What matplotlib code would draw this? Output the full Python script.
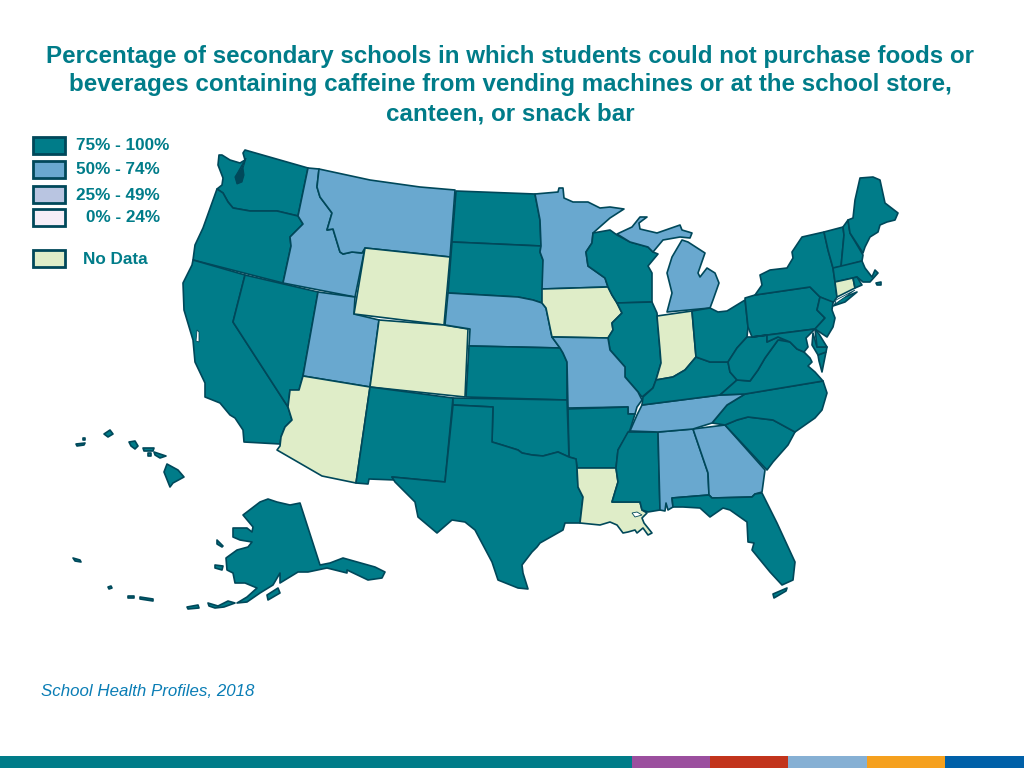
# choropleth of caffeine sales in secondary schools, by state
import matplotlib
matplotlib.use("Agg")
import matplotlib.pyplot as plt
from matplotlib.patches import Polygon, Rectangle

# colors
TEAL = "#007c89"
BLUE = "#69a8cf"
LAVENDER = "#b9c5e1"
PALE = "#f6eef8"
NODATA = "#dfedc8"
EDGE = "#00485a"

title_lines = ["Percentage of secondary schools in which students could not purchase foods or",
               "beverages containing caffeine from vending machines or at the school store,",
               "canteen, or snack bar"]
source_text = "School Health Profiles, 2018"

legend_labels = ["75% - 100%", "50% - 74%", "25% - 49%", "0% - 24%", "No Data"]
legend_colors = [TEAL, BLUE, LAVENDER, PALE, NODATA]

# which class each state falls into
band_75 = ["WA", "OR", "CA", "NV", "NM", "TX", "OK", "KS", "ND", "SD", "AR", "MS", "WI", "IL", "KY", "OH",
           "WV", "VA", "NC", "SC", "FL", "PA", "NY", "NJ", "DE", "MD", "VT", "NH", "ME", "MA", "RI",
           "AK", "HI"]
band_50 = ["ID", "MT", "UT", "NE", "MN", "MO", "MI", "TN", "AL", "GA"]
band_nodata = ["WY", "CO", "AZ", "IA", "IN", "LA", "CT"]

# state outlines, in picture pixels
outlines = {
    "WA": [[(219,155),(222,155),(230,160),(240,163),(245,160),(243,153),(245,150),(308,168),(298,216),(277,211),(250,211),(233,208),(228,202),(223,193),(217,189),(222,185),(223,178),(218,165)]],
    "OR": [[(217,189),(223,193),(228,202),(233,208),(250,211),(277,211),(298,216),(303,224),(290,237),(291,246),(283,283),(193,260),(195,245),(203,228)]],
    "CA": [[(193,260),(245,275),(233,322),(288,407),(292,420),(285,427),(281,437),(280,444),(244,442),(243,430),(235,418),(230,415),(220,403),(205,397),(205,383),(195,362),(193,340),(184,310),(183,283),(192,265)]],
    "NV": [[(245,275),(318,292),(303,376),(299,390),(290,390),(288,407),(233,322)]],
    "ID": [[(308,168),(319,169),(317,187),(320,197),(332,213),(327,230),(333,229),(340,252),(343,254),(352,252),(362,253),(365,248),(355,297),(283,283),(291,246),(290,237),(303,224),(298,216)]],
    "MT": [[(319,169),(370,180),(420,187),(455,190),(450,257),(365,248),(362,253),(352,252),(343,254),(340,252),(333,229),(327,230),(332,213),(320,197),(317,187)]],
    "UT": [[(318,292),(355,297),(354,314),(379,320),(370,387),(303,376)]],
    "WY": [[(365,248),(450,257),(444,325),(354,314)]],
    "CO": [[(379,320),(444,325),(468,329),(465,397),(370,387)]],
    "AZ": [[(303,376),(370,387),(356,483),(322,476),(277,450),(280,446),(281,437),(285,427),(292,420),(288,407),(290,390),(299,390)]],
    "NM": [[(370,387),(453,398),(445,482),(392,477),(395,480),(369,479),(368,484),(356,483)]],
    "ND": [[(456,191),(535,194),(540,220),(541,246),(452,242)]],
    "SD": [[(452,242),(541,246),(540,252),(543,260),(543,288),(542,303),(533,300),(518,297),(448,293)]],
    "NE": [[(448,293),(518,297),(533,300),(542,303),(546,308),(552,337),(560,348),(469,346),(470,329),(445,325)]],
    "KS": [[(469,346),(560,348),(563,353),(567,362),(567,400),(466,397)]],
    "MN": [[(535,194),(558,192),(559,188),(563,188),(564,198),(573,202),(588,202),(600,208),(610,207),(624,209),(610,218),(593,233),(592,243),(586,252),(588,266),(605,278),(608,287),(542,289),(543,260),(540,252),(541,246),(540,220)]],
    "IA": [[(542,289),(608,287),(612,295),(617,303),(622,313),(612,323),(613,330),(608,338),(552,337),(546,308),(542,303)]],
    "WI": [[(593,233),(610,230),(617,235),(630,242),(648,247),(653,252),(658,254),(648,266),(652,273),(652,302),(617,303),(612,295),(608,287),(605,278),(588,266),(586,252),(592,243)]],
    "IL": [[(617,303),(652,302),(657,313),(660,350),(661,363),(656,380),(653,388),(642,397),(638,392),(625,377),(625,367),(610,350),(608,338),(613,330),(612,323),(622,313)]],
    "IN": [[(657,316),(692,311),(696,357),(685,370),(673,377),(656,380),(661,363),(660,350)]],
    "MI": [[(667,312),(710,308),(713,300),(719,283),(715,273),(707,268),(700,277),(698,273),(705,253),(688,242),(682,240),(672,257),(667,273),(672,293)],
           [(617,234),(632,227),(640,217),(647,217),(639,223),(640,229),(657,233),(680,225),(682,230),(692,233),(690,238),(680,237),(663,240),(653,252),(648,247),(630,242)]],
    "MO": [[(552,337),(608,338),(610,350),(625,367),(625,377),(638,392),(642,400),(637,407),(635,414),(628,414),(628,407),(568,408),(567,362),(563,353),(560,348)]],
    "AR": [[(568,409),(628,407),(628,414),(635,414),(630,430),(618,450),(616,468),(577,468),(576,459),(569,457)]],
    "OK": [[(453,398),(567,400),(569,457),(558,452),(543,456),(532,455),(522,453),(518,450),(502,445),(492,442),(493,407),(453,405)]],
    "TX": [[(453,405),(493,407),(492,442),(502,445),(518,450),(522,453),(532,455),(543,456),(558,452),(569,457),(576,459),(577,468),(578,487),(583,497),(580,523),(565,523),(563,530),(540,543),(537,547),(532,552),(522,565),(523,573),(528,589),(518,588),(498,580),(492,562),(475,530),(465,522),(452,520),(437,533),(418,517),(415,502),(395,482),(392,477),(445,482)]],
    "LA": [[(577,468),(616,468),(618,482),(612,502),(640,502),(642,510),(647,513),(642,518),(644,523),(652,533),(648,535),(643,528),(637,533),(635,530),(628,532),(623,533),(617,525),(610,522),(600,525),(590,524),(580,523),(583,497),(578,487)]],
    "MS": [[(628,432),(658,432),(660,510),(648,512),(642,510),(640,502),(612,502),(618,482),(616,468),(618,450)]],
    "AL": [[(658,432),(693,429),(708,473),(709,495),(672,498),(673,507),(668,510),(666,503),(665,511),(660,510)]],
    "GA": [[(693,429),(725,425),(765,470),(762,492),(755,494),(752,497),(712,498),(709,495),(708,473)]],
    "FL": [[(672,498),(709,495),(712,498),(752,497),(755,494),(762,493),(777,523),(795,562),(793,580),(782,585),(770,572),(752,550),(754,543),(748,542),(747,522),(730,510),(723,508),(710,517),(700,508),(683,507),(673,507)],
           [(773,594),(787,588),(786,591),(774,598)]],
    "SC": [[(725,425),(737,420),(748,417),(773,420),(795,432),(788,445),(773,462),(767,470)]],
    "NC": [[(745,394),(823,381),(827,393),(822,410),(815,418),(795,432),(773,420),(748,417),(737,420),(725,425),(712,423),(727,405)]],
    "TN": [[(630,431),(637,415),(642,405),(720,395),(745,394),(727,405),(712,423),(693,429),(658,432)]],
    "KY": [[(642,405),(643,397),(653,388),(656,380),(673,377),(685,370),(696,357),(710,362),(728,362),(730,372),(737,380),(720,395)]],
    "VA": [[(720,395),(737,380),(750,381),(758,370),(765,358),(778,340),(790,342),(797,349),(804,352),(810,358),(812,362),(808,366),(815,372),(823,381),(745,394)],
           [(826,352),(822,372),(819,361),(818,355)]],
    "OH": [[(692,311),(710,308),(718,312),(727,311),(745,300),(748,327),(747,337),(737,348),(728,362),(710,362),(696,357)]],
    "WV": [[(728,362),(737,348),(747,337),(752,337),(767,335),(767,342),(778,337),(788,340),(778,340),(765,358),(758,370),(750,381),(737,380),(730,372)]],
    "PA": [[(745,298),(755,295),(810,287),(820,297),(817,310),(825,318),(815,329),(752,337),(748,327)]],
    "NY": [[(755,295),(762,285),(760,275),(770,270),(787,268),(793,258),(792,252),(802,237),(824,232),(828,250),(833,268),(835,282),(837,297),(833,303),(820,297),(810,287)],
           [(833,306),(842,298),(857,292),(845,302)]],
    "NJ": [[(820,297),(833,302),(832,310),(835,318),(833,327),(827,337),(815,329),(825,318),(817,310)]],
    "MD": [[(752,337),(815,329),(812,332),(806,338),(808,347),(804,352),(797,349),(790,342),(778,337),(767,342),(767,335)],
           [(813,333),(817,347),(827,347),(826,352),(818,355),(812,345)]],
    "DE": [[(815,329),(819,334),(827,347),(817,347)]],
    "VT": [[(824,232),(843,227),(844,235),(841,267),(833,268),(828,250)]],
    "NH": [[(843,227),(848,220),(850,233),(863,255),(862,261),(841,267),(844,235)]],
    "ME": [[(848,220),(853,218),(855,200),(860,178),(873,177),(880,180),(885,203),(898,213),(895,220),(887,222),(880,225),(878,232),(870,237),(865,247),(863,253),(850,233)]],
    "MA": [[(833,268),(862,261),(865,268),(872,277),(875,270),(878,273),(870,282),(863,282),(857,277),(835,282)],
           [(876,283),(881,282),(881,285),(877,285)]],
    "CT": [[(835,282),(853,278),(855,288),(837,297)]],
    "RI": [[(853,278),(857,277),(862,285),(855,288)]],
    "AK": [[(300,503),(320,565),(330,563),(343,558),(375,567),(385,572),(382,578),(368,580),(347,570),(347,573),(327,568),(308,572),(298,572),(280,583),(280,573),(273,585),(260,593),(247,602),(237,603),(247,597),(257,588),(245,583),(235,583),(233,573),(227,570),(226,558),(237,550),(248,547),(252,542),(240,540),(233,537),(233,528),(247,528),(252,532),(253,527),(243,515),(260,502),(268,499),(277,502),(290,505)],
           [(267,595),(278,588),(280,593),(268,600)],
           [(215,565),(223,566),(222,570),(215,568)],
           [(217,540),(223,546),(222,547),(217,544)],
           [(208,603),(218,606),(228,601),(235,603),(224,607),(215,608),(209,606)],
           [(187,607),(198,605),(199,608),(188,609)],
           [(140,597),(153,599),(153,601),(140,599)],
           [(128,596),(134,596),(134,598),(128,598)],
           [(108,587),(111,586),(112,588),(109,589)],
           [(73,558),(80,560),(81,562),(75,561)]],
    "HI": [[(167,464),(178,470),(184,477),(173,483),(170,487),(166,477),(164,472)],
           [(154,452),(166,456),(160,458),(155,455)],
           [(143,448),(154,448),(153,451),(144,451)],
           [(148,453),(151,453),(151,456),(148,456)],
           [(129,442),(135,441),(138,446),(135,449),(131,446)],
           [(104,434),(110,430),(113,434),(108,437)],
           [(76,444),(85,443),(84,445),(77,446)],
           [(83,438),(85,438),(85,440),(83,440)]],
}

# Puget Sound basin, drawn dark over Washington
puget = [(238,172),(235,177),(237,184),(242,182),(244,175),(243,168),(246,158),(242,165)]

# lakes, bays and sounds drawn over the land
water = [[(245,160),(243,166),(240,172),(242,167)],
         [(197,330),(199,332),(199,342),(196,341)],
         [(632,513),(637,512),(642,515),(635,517)],
         [(836,300),(855,290),(845,297),(835,304)]]

# strip along the bottom of the slide
bar_edges = [0, 632, 710, 788, 867, 945, 1024]
bar_colors = [TEAL, "#9b4f9e", "#c2341c", "#86b0d4", "#f5a01e", "#0060a8"]

plt.rcParams['font.family'] = ['Liberation Sans', 'DejaVu Sans']

fig = plt.figure(figsize=(10.24, 7.68), dpi=100)
ax = fig.add_axes([0, 0, 1, 1])
ax.set_xlim(0, 1024)
ax.set_ylim(768, 0)
ax.axis('off')

# title
for y, line in zip([57, 85, 114], title_lines):
    ax.text(510.5, y, line, color=TEAL, fontsize=17.4, fontweight='bold', ha='center', va='center')

# legend
swatch_y = [137, 161, 186, 209, 250]
label_x = [76, 76, 76, 86, 83]
for y, x, label, c in zip(swatch_y, label_x, legend_labels, legend_colors):
    ax.add_patch(Rectangle((33, y), 32, 17, facecolor=c, edgecolor=EDGE, linewidth=2))
    ax.text(x, y + 9, label, color=TEAL, fontsize=12.3, fontweight='bold', ha='left', va='center')

# states
fill = {}
for s in band_75:
    fill[s] = TEAL
for s in band_50:
    fill[s] = BLUE
for s in band_nodata:
    fill[s] = NODATA

for state, parts in outlines.items():
    for part in parts:
        ax.add_patch(Polygon(part, closed=True, facecolor=fill[state], edgecolor=EDGE,
                             linewidth=1.2, joinstyle='round'))

ax.add_patch(Polygon(puget, closed=True, facecolor=EDGE, edgecolor=EDGE, linewidth=0.8))
for part in water:
    ax.add_patch(Polygon(part, closed=True, facecolor='white', edgecolor=EDGE, linewidth=0.6))

# source note
ax.text(41, 692, source_text, color="#0a7db5", fontsize=12.2, fontstyle='italic', ha='left', va='center')

# bottom strip
lefts = bar_edges[:-1]
widths = [b - a for a, b in zip(bar_edges[:-1], bar_edges[1:])]
ax.barh(762, widths, left=lefts, height=12, color=bar_colors, linewidth=0)

fig.savefig('out.png', dpi=100)
